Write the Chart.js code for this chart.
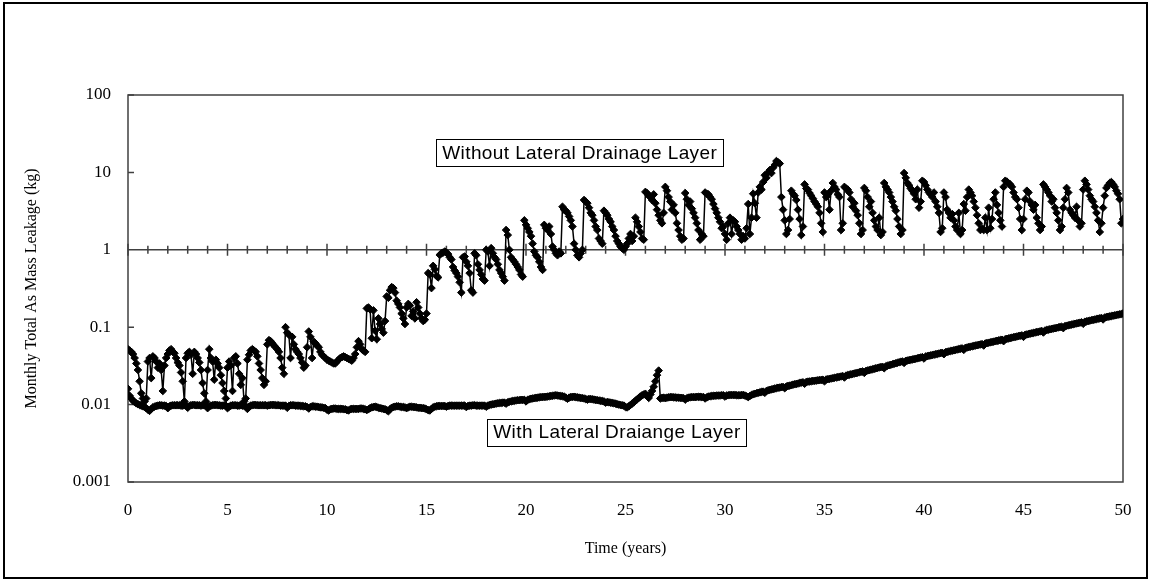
<!DOCTYPE html>
<html>
<head>
<meta charset="utf-8">
<script src="https://cdn.jsdelivr.net/npm/chart.js@4.4.0/dist/chart.umd.min.js"></script>
<style>
  html, body { margin: 0; padding: 0; background: #fff; }
  canvas { display: block; }
</style>
</head>
<body>
<canvas id="chart" width="1152" height="582"></canvas>
<script>
// monthly totals (kg), one row per year, last value = end of year 50
const withoutLayer = [
  0.052, 0.05, 0.048, 0.045, 0.04, 0.034, 0.028, 0.02, 0.014, 0.012, 0.011, 0.012,
  0.036, 0.04, 0.022, 0.042, 0.04, 0.036, 0.03, 0.034, 0.028, 0.015, 0.032, 0.04,
  0.045, 0.05, 0.052, 0.048, 0.046, 0.04, 0.035, 0.032, 0.026, 0.02, 0.011, 0.04,
  0.046, 0.048, 0.044, 0.025, 0.048, 0.045, 0.04, 0.035, 0.028, 0.019, 0.014, 0.011,
  0.028, 0.052, 0.04, 0.036, 0.021, 0.038, 0.034, 0.03, 0.024, 0.019, 0.015, 0.012,
  0.03, 0.036, 0.032, 0.015, 0.04, 0.042, 0.034, 0.025, 0.018, 0.022, 0.011, 0.012,
  0.038, 0.044, 0.05, 0.052, 0.05, 0.048, 0.042, 0.034, 0.028, 0.022, 0.018, 0.02,
  0.06, 0.068, 0.066, 0.062, 0.058, 0.055, 0.052, 0.048, 0.04, 0.03, 0.025, 0.1,
  0.085, 0.08, 0.04, 0.075, 0.06, 0.052, 0.048, 0.045, 0.04, 0.035, 0.03, 0.032,
  0.055, 0.088, 0.075, 0.04, 0.065, 0.062, 0.058, 0.055, 0.048, 0.044, 0.042, 0.04,
  0.038, 0.037, 0.036, 0.035, 0.034, 0.034, 0.036, 0.038, 0.04, 0.041, 0.042, 0.041,
  0.04, 0.039, 0.038, 0.037, 0.04, 0.045, 0.055, 0.066, 0.06, 0.052, 0.05, 0.048,
  0.175, 0.18, 0.17, 0.072, 0.165, 0.09, 0.07, 0.13, 0.11, 0.095, 0.085, 0.12,
  0.25, 0.24, 0.3, 0.33, 0.32, 0.28, 0.22, 0.2, 0.18, 0.15, 0.13, 0.11,
  0.18, 0.2, 0.19, 0.14, 0.16, 0.13, 0.21, 0.18, 0.15, 0.13, 0.12, 0.125,
  0.15, 0.5, 0.48, 0.32, 0.62, 0.56, 0.46, 0.44, 0.86, 0.9, 0.92, 0.95,
  0.92, 0.88, 0.8, 0.75, 0.6, 0.54, 0.5, 0.45, 0.38, 0.28, 0.8, 0.82,
  0.7, 0.62, 0.5, 0.3, 0.28, 0.9, 0.85, 0.65, 0.55, 0.48, 0.42, 0.4,
  1.0, 0.95, 0.62, 1.05, 0.9, 0.8, 0.75, 0.65, 0.55, 0.5, 0.45, 0.4,
  1.8, 1.55, 1.0, 0.8, 0.75, 0.7, 0.65, 0.6, 0.55, 0.48, 0.45, 2.4,
  2.1, 1.9, 1.7, 1.5, 1.2, 0.95, 0.85, 0.8, 0.7, 0.6, 0.55, 2.1,
  1.9, 1.8, 2.0, 1.6, 1.1, 1.0, 0.9, 0.85, 0.95, 0.9, 3.6, 3.3,
  3.2, 3.0, 2.7, 2.4, 2.0, 1.2, 1.0, 0.85, 0.8, 0.9, 1.0, 4.4,
  4.2, 4.0, 3.5, 3.0, 2.8, 2.4, 2.0, 1.8, 1.4, 1.3, 1.2, 3.2,
  3.0, 2.8, 2.5, 2.3, 2.0, 1.8, 1.5, 1.3, 1.2, 1.1, 1.05, 1.0,
  1.1, 1.2, 1.4, 1.6, 1.3, 1.5, 2.6, 2.3, 2.0, 1.7, 1.4, 1.35,
  5.6, 5.4, 5.0, 4.8, 4.4, 5.2, 4.0, 3.3, 2.8, 2.4, 2.2, 3.0,
  6.5, 5.8, 4.8, 4.2, 3.3, 3.8, 3.0, 2.2, 1.8, 1.5, 1.35, 1.4,
  5.4, 4.5, 3.8, 4.2, 3.4, 3.0, 2.6, 2.2, 1.8, 1.35, 1.6, 1.5,
  5.5, 5.3, 5.2, 4.8, 4.5, 3.9, 3.4, 3.0, 2.6, 2.3, 1.9, 2.0,
  1.6, 1.35, 2.2, 2.6, 1.6, 2.4, 2.3, 2.0, 1.8, 1.6, 1.35, 1.5,
  1.4, 1.9, 3.9, 1.6, 2.6, 5.3, 4.0, 2.6, 5.5, 6.5, 6.0, 7.5,
  9.2, 8.5, 10.0, 10.7, 9.8, 11.5, 12.5, 14.0, 13.5, 13.0, 4.8, 3.3,
  2.4, 1.6, 1.8, 2.5, 5.8, 5.3, 5.0, 4.4, 3.3, 2.5, 1.55, 2.0,
  7.0, 6.2, 6.0, 5.4, 5.0, 4.6, 4.2, 3.9, 3.6, 3.0, 2.2, 1.7,
  5.5, 4.8, 5.2, 3.3, 5.8, 7.3, 6.5, 6.0, 5.2, 4.8, 1.8, 2.2,
  6.5, 6.2, 6.0, 5.5, 4.5, 3.6, 4.0, 3.2, 2.8, 2.2, 1.6, 1.8,
  6.3, 5.8, 4.8, 3.6, 4.2, 3.0, 2.4, 2.0, 1.8, 2.6, 1.55, 1.7,
  7.3, 6.5, 6.0, 5.5, 4.8, 4.2, 3.6, 3.2, 2.5, 2.0, 1.6, 1.8,
  9.8, 8.5, 7.3, 6.8, 6.2, 5.8, 5.3, 4.5, 6.0, 3.5, 4.2, 7.8,
  7.5, 6.8, 6.0, 5.5, 5.2, 4.8, 5.5, 4.2, 3.6, 3.0, 1.7, 1.9,
  5.5, 4.8, 3.3, 3.0, 2.6, 2.9, 2.4, 2.0, 1.8, 3.0, 1.6, 1.8,
  3.9, 3.2, 4.8, 6.0, 5.5, 5.0, 4.2, 3.5, 2.8, 2.2, 1.8, 1.9,
  1.8, 2.6, 1.8, 3.5, 1.9, 2.5, 4.5, 5.5, 3.8, 3.0, 2.4, 2.0,
  6.5, 7.8, 7.6, 7.2, 7.0, 6.5, 5.5, 4.8, 4.5, 3.5, 2.5, 1.8,
  2.5, 4.5, 5.8, 5.5, 4.2, 3.8, 3.3, 3.8, 2.6, 2.2, 1.8, 2.0,
  7.0, 6.5, 6.0, 5.5, 5.0, 4.2, 4.5, 3.5, 3.0, 2.4, 1.8, 2.0,
  3.5, 4.5, 6.3, 5.5, 3.3, 3.0, 2.8, 2.6, 3.6, 2.4, 2.0, 2.2,
  6.0, 7.8, 7.0, 6.0, 5.0, 4.5, 4.2, 3.6, 3.0, 2.4, 1.7, 2.2,
  3.5, 5.0, 6.3, 6.8, 7.3, 7.5, 7.0, 6.5, 5.8, 5.3, 4.5, 2.2,
  2.5
];

const withLayer = [
  0.016, 0.013, 0.012, 0.0112, 0.0108, 0.0104, 0.0101, 0.0099, 0.0097, 0.0095, 0.0093, 0.009,
  0.0086, 0.0083, 0.0088, 0.0092, 0.0094, 0.0096, 0.0097, 0.0098, 0.0098, 0.0097, 0.0097, 0.0096,
  0.009, 0.0095, 0.0097, 0.0098, 0.0098, 0.0098, 0.0098, 0.0098, 0.0097, 0.0097, 0.0098, 0.0098,
  0.0091, 0.0096, 0.0098, 0.0099, 0.0099, 0.0098, 0.0098, 0.0098, 0.0097, 0.0098, 0.0098, 0.0098,
  0.009, 0.0095, 0.0097, 0.0098, 0.0099, 0.0099, 0.0098, 0.0098, 0.0097, 0.0097, 0.0098, 0.0097,
  0.009, 0.0094, 0.0097, 0.0098, 0.0098, 0.0098, 0.0097, 0.0097, 0.0098, 0.0097, 0.0097, 0.0096,
  0.0088, 0.0094, 0.0097, 0.0098, 0.0099, 0.0099, 0.0098, 0.0098, 0.0098, 0.0098, 0.0098, 0.0098,
  0.0097, 0.0098, 0.0099, 0.0099, 0.0099, 0.0098, 0.0098, 0.0098, 0.0097, 0.0097, 0.0097, 0.0097,
  0.0091, 0.0096, 0.0098, 0.0098, 0.0098, 0.0097, 0.0097, 0.0097, 0.0096, 0.0096, 0.0095, 0.0095,
  0.0093, 0.0089, 0.0093, 0.0095, 0.0095, 0.0094, 0.0094, 0.0093, 0.0092, 0.0092, 0.0091, 0.009,
  0.0086, 0.0084, 0.0087, 0.0088, 0.0089, 0.0089, 0.0088, 0.0088, 0.0088, 0.0088, 0.0087, 0.0087,
  0.0085, 0.0084, 0.0087, 0.0088, 0.0088, 0.0088, 0.0088, 0.0088, 0.0089, 0.0089, 0.0088, 0.0087,
  0.0085, 0.0087, 0.009, 0.0092, 0.0093, 0.0094, 0.0093, 0.0091, 0.009, 0.0089, 0.0088, 0.0087,
  0.0085, 0.0082, 0.0087, 0.0091, 0.0093, 0.0094, 0.0095, 0.0095, 0.0094, 0.0093, 0.0093, 0.0092,
  0.009, 0.0092, 0.0094, 0.0094, 0.0093, 0.0093, 0.0092, 0.0091, 0.0091, 0.009, 0.009, 0.0089,
  0.0087, 0.0085, 0.0084, 0.0088, 0.0092, 0.0094, 0.0095, 0.0096, 0.0096, 0.0096, 0.0096, 0.0096,
  0.0094, 0.0096, 0.0097, 0.0097, 0.0097, 0.0097, 0.0097, 0.0097, 0.0097, 0.0097, 0.0097, 0.0097,
  0.0093, 0.0096, 0.0097, 0.0097, 0.0098, 0.0098, 0.0097, 0.0097, 0.0097, 0.0097, 0.0097, 0.0097,
  0.0094, 0.0097, 0.0099, 0.01, 0.0101, 0.0102, 0.0103, 0.0104, 0.0105, 0.0105, 0.0106, 0.0106,
  0.0103, 0.0107, 0.0109, 0.011, 0.0111, 0.0112, 0.0113, 0.0114, 0.0114, 0.0115, 0.0115, 0.0115,
  0.011, 0.0115, 0.0117, 0.0119, 0.012, 0.0121, 0.0122, 0.0123, 0.0124, 0.0125, 0.0125, 0.0126,
  0.0126, 0.0127, 0.0128, 0.0129, 0.013, 0.0131, 0.0132, 0.0131, 0.013, 0.0129, 0.0128, 0.0127,
  0.0123, 0.0119, 0.0123, 0.0125, 0.0126, 0.0126, 0.0125, 0.0124, 0.0123, 0.0122, 0.0121, 0.012,
  0.0118, 0.0116, 0.0118, 0.0118, 0.0117, 0.0116, 0.0115, 0.0114, 0.0113, 0.0112, 0.0111, 0.011,
  0.0106, 0.0108, 0.0107, 0.0106, 0.0105, 0.0104, 0.0103, 0.0101, 0.01, 0.0099, 0.0098, 0.0097,
  0.0093, 0.0092, 0.0095, 0.0099, 0.0103, 0.0107, 0.0112, 0.0117, 0.0122, 0.0127, 0.0132, 0.0135,
  0.0138, 0.013, 0.0122, 0.0135, 0.015, 0.017, 0.02, 0.024, 0.0275, 0.012, 0.0122, 0.0123,
  0.0121, 0.0123, 0.0124, 0.0125, 0.0125, 0.0124, 0.0124, 0.0123, 0.0123, 0.0122, 0.0122, 0.0121,
  0.0116, 0.0121, 0.0123, 0.0124, 0.0125, 0.0125, 0.0125, 0.0126, 0.0126, 0.0126, 0.0125, 0.0125,
  0.012, 0.0124, 0.0127, 0.0128, 0.0129, 0.013, 0.013, 0.0131, 0.0131, 0.0131, 0.0132, 0.0132,
  0.0127, 0.0131, 0.0132, 0.0133, 0.0133, 0.0133, 0.0133, 0.0132, 0.0132, 0.0132, 0.0133, 0.0133,
  0.0131, 0.0128, 0.0125, 0.0129, 0.0133, 0.0136, 0.0138, 0.014, 0.0142, 0.0144, 0.0146, 0.0147,
  0.0142, 0.015, 0.0153, 0.0155, 0.0157, 0.0159, 0.0161, 0.0163, 0.0165, 0.0166, 0.0168, 0.0169,
  0.0163, 0.0171, 0.0174, 0.0176, 0.0178, 0.0181, 0.0183, 0.0185, 0.0187, 0.019, 0.0192, 0.0194,
  0.0186, 0.0196, 0.0198, 0.0199, 0.02, 0.0202, 0.0203, 0.0204, 0.0206, 0.0207, 0.0208, 0.0209,
  0.02, 0.0211, 0.0213, 0.0215, 0.0217, 0.0219, 0.0222, 0.0224, 0.0226, 0.0229, 0.0231, 0.0233,
  0.0224, 0.0237, 0.024, 0.0243, 0.0246, 0.0249, 0.0252, 0.0255, 0.0258, 0.0262, 0.0265, 0.0268,
  0.0257, 0.0272, 0.0276, 0.0279, 0.0283, 0.0286, 0.029, 0.0294, 0.0298, 0.0302, 0.0305, 0.0308,
  0.0295, 0.0313, 0.0318, 0.0323, 0.0327, 0.0332, 0.0337, 0.0342, 0.0347, 0.0352, 0.0357, 0.0361,
  0.0346, 0.0367, 0.0371, 0.0375, 0.0379, 0.0383, 0.0387, 0.0391, 0.0396, 0.0401, 0.0406, 0.041,
  0.0394, 0.0418, 0.0423, 0.0428, 0.0432, 0.0437, 0.0442, 0.0447, 0.0452, 0.0457, 0.0462, 0.0467,
  0.0448, 0.0475, 0.0481, 0.0486, 0.0492, 0.0497, 0.0503, 0.0509, 0.0515, 0.0521, 0.0527, 0.0532,
  0.051, 0.0541, 0.0547, 0.0553, 0.056, 0.0566, 0.0572, 0.0579, 0.0585, 0.0592, 0.0598, 0.0604,
  0.058, 0.0616, 0.0623, 0.063, 0.0637, 0.0644, 0.0651, 0.0659, 0.0666, 0.0674, 0.0681, 0.0688,
  0.066, 0.07, 0.0708, 0.0716, 0.0725, 0.0733, 0.0741, 0.075, 0.0758, 0.0767, 0.0775, 0.0783,
  0.0751, 0.0797, 0.0806, 0.0815, 0.0825, 0.0834, 0.0844, 0.0853, 0.0863, 0.0873, 0.0883, 0.0892,
  0.0855, 0.0907, 0.0918, 0.0928, 0.0939, 0.095, 0.096, 0.0971, 0.0982, 0.0993, 0.1005, 0.1015,
  0.0973, 0.1032, 0.1044, 0.1056, 0.1068, 0.1081, 0.1093, 0.1106, 0.1118, 0.1131, 0.1144, 0.1155,
  0.1107, 0.1175, 0.1188, 0.1202, 0.1216, 0.123, 0.1244, 0.1258, 0.1273, 0.1287, 0.1302, 0.1315,
  0.126, 0.1336, 0.135, 0.1364, 0.1378, 0.1392, 0.1407, 0.1421, 0.1436, 0.1451, 0.1466, 0.148,
  0.15
];

const xTicks = [0, 5, 10, 15, 20, 25, 30, 35, 40, 45, 50];
const yTicks = [0.001, 0.01, 0.1, 1, 10, 100];
const yTickLabels = ['0.001', '0.01', '0.1', '1', '10', '100'];

// text boxes, anchored at (years, kg)
const notes = [
  { text: 'Without Lateral Drainage Layer', x: 22.7, y: 18 },
  { text: 'With Lateral Draiange Layer', x: 24.57, y: 0.0044 }
];

const serif = "'Liberation Serif', 'Times New Roman', serif";
const sans = "'Liberation Sans', Arial, sans-serif";

const toPoints = arr => arr.map((v, i) => ({ x: i / 12, y: v }));

const framePlugin = {
  id: 'frame',
  beforeDatasetsDraw(chart) {
    const { ctx, chartArea: a, scales: { x, y } } = chart;
    ctx.save();
    ctx.strokeStyle = '#404040';
    ctx.lineWidth = 1.5;
    ctx.strokeRect(a.left, a.top, a.right - a.left, a.bottom - a.top);

    // horizontal axis crosses at 1
    const y1 = y.getPixelForValue(1);
    ctx.beginPath();
    ctx.moveTo(a.left, y1);
    ctx.lineTo(a.right, y1);
    for (let yr = 0; yr <= 50; yr++) {
      const px = x.getPixelForValue(yr);
      const h = yr % 5 === 0 ? 6 : 4;
      ctx.moveTo(px, y1 - h);
      ctx.lineTo(px, y1 + h);
    }
    yTicks.forEach(v => {
      const py = y.getPixelForValue(v);
      ctx.moveTo(a.left, py);
      ctx.lineTo(a.left + 6, py);
    });
    ctx.stroke();
    ctx.restore();
  },
  afterDraw(chart) {
    const { ctx, scales: { x, y } } = chart;
    ctx.save();
    ctx.font = '19px ' + sans;
    ctx.letterSpacing = '0.4px';
    ctx.textAlign = 'center';
    ctx.textBaseline = 'middle';
    notes.forEach(n => {
      const cx = x.getPixelForValue(n.x);
      const cy = y.getPixelForValue(n.y);
      const w = ctx.measureText(n.text).width + 12;
      const h = 27;
      ctx.fillStyle = '#fff';
      ctx.fillRect(cx - w / 2, cy - h / 2, w, h);
      ctx.strokeStyle = '#000';
      ctx.lineWidth = 1;
      ctx.strokeRect(Math.round(cx - w / 2) + 0.5, Math.round(cy - h / 2) + 0.5, Math.round(w), h);
      ctx.fillStyle = '#000';
      ctx.fillText(n.text, cx, cy + 1);
    });
    // outer border
    ctx.strokeStyle = '#000';
    ctx.lineWidth = 2;
    ctx.strokeRect(4, 3, 1143, 575);
    ctx.restore();
  }
};

const seriesStyle = {
  borderColor: '#000',
  backgroundColor: '#000',
  borderWidth: 1.5,
  pointStyle: 'rectRot',
  pointRadius: 3.8,
  pointBackgroundColor: '#000',
  pointBorderColor: '#000',
  pointBorderWidth: 1,
  tension: 0,
  fill: false
};

new Chart(document.getElementById('chart'), {
  type: 'line',
  data: {
    datasets: [
      { label: 'Without Lateral Drainage Layer', data: toPoints(withoutLayer), ...seriesStyle },
      { label: 'With Lateral Draiange Layer', data: toPoints(withLayer), ...seriesStyle }
    ]
  },
  plugins: [framePlugin],
  options: {
    responsive: false,
    animation: false,
    devicePixelRatio: 1,
    layout: { padding: { left: 0, top: 95, right: 29, bottom: 0 } },
    plugins: {
      legend: { display: false },
      tooltip: { enabled: false }
    },
    scales: {
      x: {
        type: 'linear',
        min: 0,
        max: 50,
        afterBuildTicks: s => { s.ticks = xTicks.map(v => ({ value: v })); },
        afterFit: s => { s.height = 100; },
        grid: { display: false, drawTicks: false },
        border: { display: false },
        ticks: { color: '#000', font: { family: serif, size: 17 }, padding: 18, maxRotation: 0 },
        title: {
          display: true,
          text: 'Time (years)',
          color: '#000',
          font: { family: serif, size: 16 },
          padding: { top: 0, bottom: 24 }
        }
      },
      y: {
        type: 'logarithmic',
        min: 0.001,
        max: 100,
        afterBuildTicks: s => { s.ticks = yTicks.map(v => ({ value: v })); },
        afterFit: s => { s.width = 128; },
        grid: { display: false, drawTicks: false },
        border: { display: false },
        ticks: {
          color: '#000',
          font: { family: serif, size: 17 },
          padding: 17,
          callback: (v, i) => yTickLabels[i]
        },
        title: {
          display: true,
          text: 'Monthly Total As Mass Leakage (kg)',
          color: '#000',
          font: { family: serif, size: 16 },
          padding: { top: 22, bottom: 0 }
        }
      }
    }
  }
});
</script>
</body>
</html>
